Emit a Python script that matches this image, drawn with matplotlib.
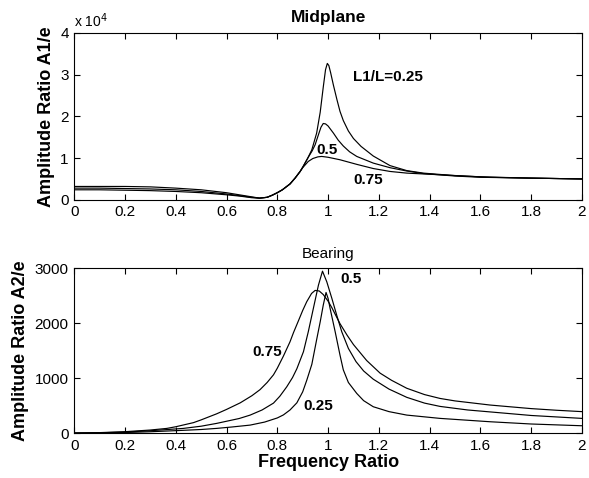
import matplotlib
matplotlib.use("Agg")
import matplotlib.pyplot as plt

plt.rcParams['font.family'] = ['Liberation Sans', 'DejaVu Sans']

# ---- Midplane (values in units of 1e4) ----
r_mid_025 = [0, 0.1, 0.2, 0.3, 0.4, 0.5, 0.6, 0.65, 0.7, 0.73, 0.76, 0.78, 0.8, 0.82, 0.85,
             0.87, 0.89, 0.9, 0.92, 0.936, 0.955, 0.969, 0.981, 0.99, 0.997, 1.003, 1.01,
             1.021, 1.035, 1.047, 1.06, 1.08, 1.1, 1.13, 1.178, 1.244, 1.31, 1.375, 1.5,
             1.6, 1.8, 2.0]
a1_025 = [0.32, 0.32, 0.32, 0.31, 0.28, 0.24, 0.17, 0.12, 0.07, 0.04, 0.06, 0.11, 0.17, 0.24, 0.38,
          0.52, 0.68, 0.78, 1.0, 1.2, 1.6, 2.1, 2.7, 3.12, 3.27, 3.22, 3.05,
          2.75, 2.4, 2.12, 1.9, 1.65, 1.47, 1.28, 1.05, 0.82, 0.70, 0.64, 0.58,
          0.55, 0.52, 0.50]

r_mid_05 = [0, 0.1, 0.2, 0.3, 0.4, 0.5, 0.6, 0.65, 0.7, 0.73, 0.76, 0.78, 0.8, 0.82, 0.85,
            0.87, 0.89, 0.9, 0.922, 0.937, 0.949, 0.962, 0.972, 0.981, 0.99, 1.0, 1.021,
            1.04, 1.06, 1.085, 1.113, 1.178, 1.244, 1.31, 1.375, 1.5, 1.6, 1.8, 2.0]
a1_05 = [0.28, 0.28, 0.27, 0.26, 0.24, 0.20, 0.14, 0.10, 0.06, 0.04, 0.06, 0.11, 0.17, 0.24, 0.38,
         0.52, 0.68, 0.78, 1.02, 1.17, 1.32, 1.56, 1.74, 1.83, 1.82, 1.77, 1.6,
         1.43, 1.29, 1.15, 1.04, 0.88, 0.77, 0.69, 0.63, 0.57, 0.54, 0.52, 0.50]

r_mid_075 = [0, 0.1, 0.2, 0.3, 0.4, 0.5, 0.6, 0.65, 0.7, 0.73, 0.76, 0.78, 0.8, 0.82, 0.85,
             0.87, 0.89, 0.9, 0.922, 0.94, 0.96, 0.975, 1.0, 1.047, 1.113, 1.178, 1.244,
             1.31, 1.441, 1.638, 1.8, 2.0]
a1_075 = [0.24, 0.24, 0.23, 0.22, 0.20, 0.17, 0.12, 0.09, 0.05, 0.04, 0.06, 0.11, 0.17, 0.24, 0.38,
          0.52, 0.68, 0.77, 0.92, 0.99, 1.03, 1.04, 1.02, 0.96, 0.85, 0.75, 0.68,
          0.64, 0.60, 0.54, 0.52, 0.50]

# ---- Bearing ----
r_brg_075 = [0, 0.1, 0.2, 0.299, 0.365, 0.4, 0.47, 0.5, 0.561, 0.6, 0.654, 0.7, 0.732, 0.76,
             0.785, 0.8, 0.824, 0.85, 0.864, 0.883, 0.9, 0.916, 0.935, 0.949, 0.965, 0.981,
             1.0, 1.015, 1.047, 1.075, 1.1, 1.152, 1.205, 1.25, 1.31, 1.38, 1.441, 1.5,
             1.638, 1.7, 1.8, 1.9, 2.0]
a2_075 = [0, 8, 25, 55, 85, 115, 190, 240, 350, 430, 550, 680, 790, 920,
          1060, 1180, 1400, 1660, 1830, 2040, 2230, 2390, 2540, 2595, 2585, 2520,
          2400, 2280, 1990, 1780, 1610, 1320, 1090, 960, 815, 700, 630, 585,
          510, 485, 445, 415, 390]

r_brg_05 = [0, 0.1, 0.2, 0.299, 0.43, 0.5, 0.561, 0.6, 0.65, 0.693, 0.74, 0.785, 0.81, 0.837,
            0.86, 0.877, 0.903, 0.922, 0.942, 0.962, 0.978, 0.995, 1.015, 1.034, 1.054, 1.08,
            1.11, 1.14, 1.178, 1.24, 1.31, 1.38, 1.441, 1.55, 1.638, 1.8, 2.0]
a2_05 = [0, 5, 18, 42, 85, 125, 176, 215, 265, 327, 420, 545, 670, 840,
         1010, 1170, 1480, 1842, 2267, 2690, 2945, 2751, 2449, 2145, 1842, 1540,
         1300, 1130, 980, 800, 650, 545, 485, 420, 385, 320, 267]

r_brg_025 = [0, 0.1, 0.2, 0.299, 0.43, 0.5, 0.561, 0.62, 0.693, 0.75, 0.8, 0.824, 0.85, 0.877,
             0.9, 0.916, 0.936, 0.955, 0.969, 0.981, 0.992, 1.0, 1.008, 1.028, 1.047, 1.06,
             1.08, 1.113, 1.14, 1.178, 1.24, 1.31, 1.441, 1.638, 1.8, 2.0]
a2_025 = [0, 3, 10, 24, 50, 65, 85, 110, 145, 200, 275, 330, 420, 550,
          750, 960, 1250, 1700, 2024, 2327, 2558, 2450, 2267, 1842, 1418, 1150,
          920, 721, 590, 479, 390, 327, 267, 206, 165, 133]

xticks = [0, 0.2, 0.4, 0.6, 0.8, 1, 1.2, 1.4, 1.6, 1.8, 2]
xticklabels = ['0', '0.2', '0.4', '0.6', '0.8', '1', '1.2', '1.4', '1.6', '1.8', '2']

fig = plt.figure(figsize=(5.89, 4.78), dpi=100)
ax1 = fig.add_axes([0.126, 0.582, 0.862, 0.349])
ax2 = fig.add_axes([0.126, 0.094, 0.862, 0.345])

lc = 'k'
lw = 0.85
ax1.plot(r_mid_025, a1_025, color=lc, lw=lw)
ax1.plot(r_mid_05, a1_05, color=lc, lw=lw)
ax1.plot(r_mid_075, a1_075, color=lc, lw=lw)

ax2.plot(r_brg_075, a2_075, color=lc, lw=lw)
ax2.plot(r_brg_05, a2_05, color=lc, lw=lw)
ax2.plot(r_brg_025, a2_025, color=lc, lw=lw)

for ax in (ax1, ax2):
    ax.set_xlim(0, 2)
    ax.set_xticks(xticks)
    ax.set_xticklabels(xticklabels)
    ax.tick_params(direction='in', top=True, right=True, length=4, width=0.8,
                   labelsize=11, pad=4)
    for s in ax.spines.values():
        s.set_linewidth(0.8)

ax1.set_ylim(0, 4)
ax1.set_yticks([0, 1, 2, 3, 4])
ax1.set_yticklabels(['0', '1', '2', '3', '4'])
ax1.text(0.0, 1.015, r'x 10$^{4}$', transform=ax1.transAxes, ha='left', va='bottom', fontsize=10)
ax1.set_title('Midplane', fontsize=12.5, fontweight='bold', pad=8)
ax1.set_ylabel('Amplitude Ratio A1/e', fontsize=13, fontweight='bold', labelpad=4)

ax1.text(1.098, 2.95, 'L1/L=0.25', fontsize=11, fontweight='bold', va='center', ha='left')
ax1.text(0.955, 1.2, '0.5', fontsize=11, fontweight='bold', va='center', ha='left')
ax1.text(1.10, 0.48, '0.75', fontsize=11, fontweight='bold', va='center', ha='left')

ax2.set_ylim(0, 3000)
ax2.set_yticks([0, 1000, 2000, 3000])
ax2.set_title('Bearing', fontsize=11, pad=7)
ax2.set_ylabel('Amplitude Ratio A2/e', fontsize=13, fontweight='bold', labelpad=4)
ax2.set_xlabel('Frequency Ratio', fontsize=13, fontweight='bold', labelpad=1)

ax2.text(1.047, 2795, '0.5', fontsize=11, fontweight='bold', va='center', ha='left')
ax2.text(0.70, 1478, '0.75', fontsize=11, fontweight='bold', va='center', ha='left')
ax2.text(0.903, 497, '0.25', fontsize=11, fontweight='bold', va='center', ha='left')

fig.savefig('out.png', dpi=100)
